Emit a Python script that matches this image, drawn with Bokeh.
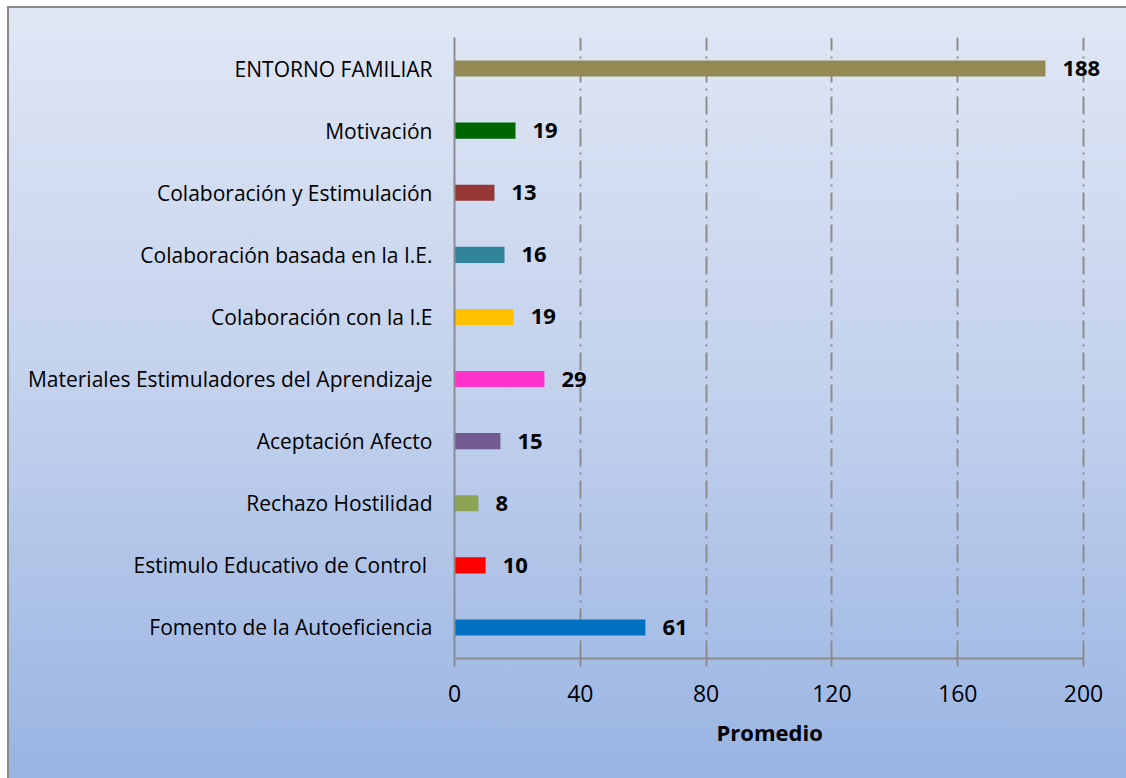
from bokeh.plotting import figure
from bokeh.models import Range1d, FixedTicker, LabelSet, ColumnDataSource, Title
from bokeh.core.properties import value
from bokeh.embed import file_html
from bokeh.resources import INLINE

categories = [
    "Fomento de la Autoeficiencia",
    "Estimulo Educativo  de Control",
    "Rechazo Hostilidad",
    "Aceptación Afecto",
    "Materiales Estimuladores del Aprendizaje",
    "Colaboración con la I.E",
    "Colaboración basada en la I.E.",
    "Colaboración y Estimulación",
    "Motivación",
    "ENTORNO FAMILIAR",
]
values = [60.7, 9.9, 7.6, 14.6, 28.6, 18.8, 15.9, 12.7, 19.4, 187.9]
colors = ["#0070C0", "#FF0000", "#8CA554", "#735A91", "#FF33CC",
          "#FFC000", "#31849B", "#953735", "#006600", "#928953"]
labels = [str(int(round(v))) for v in values]
x_ticks = [0, 40, 80, 120, 160, 200]
x_title = "Promedio"

FONT = "Open Sans"
GRID = "#8c8c8c"

src = ColumnDataSource(dict(cat=categories, val=values, color=colors, label=labels))

p = figure(
    width=1126, height=778,
    y_range=categories, x_range=Range1d(0, 211.76),
    output_backend="svg", toolbar_location=None,
    min_border_left=454, min_border_right=6,
    min_border_top=37, min_border_bottom=120,
)
p.background_fill_alpha = 0
p.border_fill_alpha = 0
p.outline_line_color = None
p.styles = {
    "background": (
        "linear-gradient(#8a8a8a,#8a8a8a) 7px 6px / 2px 772px no-repeat, "
        "linear-gradient(#8a8a8a,#8a8a8a) 7px 6px / 1119px 2px no-repeat, "
        "linear-gradient(to bottom, #e0e7f5 0%, #c3d1ed 50%, #99b4e3 100%) 9px 8px / 1117px 770px no-repeat, "
        "white"
    ),
}

p.hbar(y="cat", right="val", left=0, height=0.26, color="color", line_color=None, source=src)

lbl = LabelSet(x="val", y="cat", text="label", source=src, x_offset=17,
               text_baseline="middle", text_align="left",
               text_font=value(FONT), text_font_style="bold", text_font_size="22px",
               text_color="black")
p.add_layout(lbl)

# x axis
p.xaxis.ticker = FixedTicker(ticks=x_ticks)
p.xaxis.bounds = (0, 200)
p.xaxis.axis_line_color = GRID
p.xaxis.axis_line_width = 2
p.xaxis.major_tick_line_color = GRID
p.xaxis.major_tick_line_width = 2
p.xaxis.major_tick_out = 8
p.xaxis.major_tick_in = 0
p.xaxis.minor_tick_line_color = None
p.xaxis.major_label_text_font = FONT
p.xaxis.major_label_text_font_size = "23px"
p.xaxis.major_label_text_color = "black"
p.xaxis.major_label_standoff = 18

# axis title placed under the 0..200 span (centred on x = 100)
t = Title(text=x_title, align="left", offset=262,
          text_font=FONT, text_font_style="bold", text_font_size="22px",
          text_color="black", standoff=20)
p.add_layout(t, "below")

# y axis
p.yaxis.axis_line_color = GRID
p.yaxis.axis_line_width = 2
p.yaxis.major_tick_line_color = None
p.yaxis.minor_tick_line_color = None
p.yaxis.major_tick_out = 0
p.yaxis.major_label_text_font = FONT
p.yaxis.major_label_text_font_size = "21px"
p.yaxis.major_label_text_color = "black"
p.yaxis.major_label_standoff = 22

# grids
p.ygrid.grid_line_color = None
p.xgrid.ticker = FixedTicker(ticks=x_ticks)
p.xgrid.grid_line_color = GRID
p.xgrid.grid_line_width = 2
p.xgrid.grid_line_dash = "18 6 2 6"

open("out.html", "w").write(file_html(p, INLINE))
